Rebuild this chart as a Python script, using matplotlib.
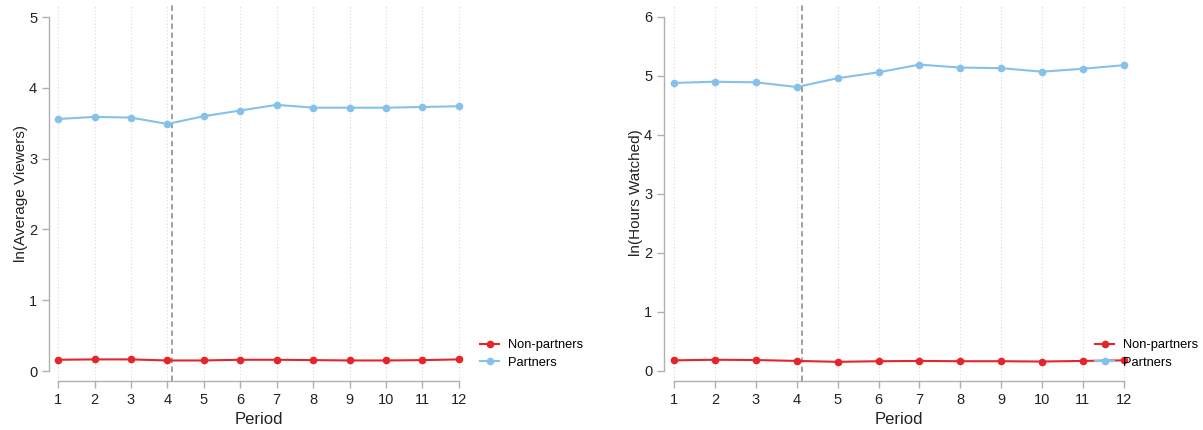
import matplotlib.pyplot as plt
import numpy as np

plt.rcParams['font.family'] = ['Liberation Sans', 'DejaVu Sans']

periods = np.arange(1, 13)
# ln(Average Viewers)
viewers_partners = [3.56, 3.59, 3.58, 3.49, 3.60, 3.68, 3.76, 3.72, 3.72, 3.72, 3.73, 3.74]
viewers_nonpartners = [0.16, 0.165, 0.165, 0.15, 0.15, 0.16, 0.16, 0.155, 0.15, 0.15, 0.155, 0.165]
# ln(Hours Watched)
hours_partners = [4.88, 4.90, 4.89, 4.81, 4.96, 5.06, 5.19, 5.14, 5.13, 5.07, 5.12, 5.18]
hours_nonpartners = [0.18, 0.19, 0.185, 0.17, 0.155, 0.165, 0.17, 0.165, 0.165, 0.16, 0.17, 0.18]
event_x = 4.12

red = '#e3262b'
blue = '#85c1ea'
grey = '#b0b0b0'

fig = plt.figure(figsize=(12.03, 4.3), dpi=100)
W, H = 1203, 430

def panel(left, right, ymax, ylim, nonp, part, ylabel, leg_x):
    ax = fig.add_axes([left / W, (H - 381) / H, (right - left) / W, (381 - 5) / H])
    ax.set_xlim(0.75, 12.25)
    ax.set_ylim(*ylim)
    for x in periods:
        ax.axvline(x, color='#d8d8d8', lw=0.8, ls=(0, (1, 2)), zorder=0)
    ax.axvline(event_x, color='#999999', lw=1.3, ls=(0, (3, 2)), zorder=1)
    ax.plot(periods, nonp, color=red, marker='o', ms=4.5, lw=1.5, label='Non-partners', clip_on=False)
    ax.plot(periods, part, color=blue, marker='o', ms=4.5, lw=1.5, label='Partners', clip_on=False)
    for s in ['top', 'right']:
        ax.spines[s].set_visible(False)
    ax.spines['left'].set_bounds(0, ymax)
    ax.spines['bottom'].set_bounds(1, 12)
    ax.spines['left'].set_color(grey)
    ax.spines['bottom'].set_color(grey)
    ax.spines['left'].set_linewidth(1.0)
    ax.spines['bottom'].set_linewidth(1.0)
    ax.set_xticks(periods)
    ax.set_yticks(range(0, ymax + 1))
    ax.tick_params(colors=grey, labelcolor='#222222', labelsize=10.5, length=5, width=1.0)
    ax.set_xlabel('Period', fontsize=12, color='#222222', labelpad=4)
    ax.set_ylabel(ylabel, fontsize=11, color='#222222', labelpad=1)
    ax.legend(loc='upper left', bbox_to_anchor=(leg_x / W, (H - 339) / H),
              bbox_transform=fig.transFigure, frameon=False, fontsize=9.3,
              handlelength=1.5, handletextpad=0.7, labelspacing=0.45,
              borderaxespad=0, borderpad=0)
    return ax

panel(49, 468, 5, (-0.14, 5.17), viewers_nonpartners, viewers_partners,
      'ln(Average Viewers)', 480)
panel(664, 1134, 6, (-0.17, 6.2), hours_nonpartners, hours_partners,
      'ln(Hours Watched)', 1095)

fig.savefig('out.png', dpi=100)
